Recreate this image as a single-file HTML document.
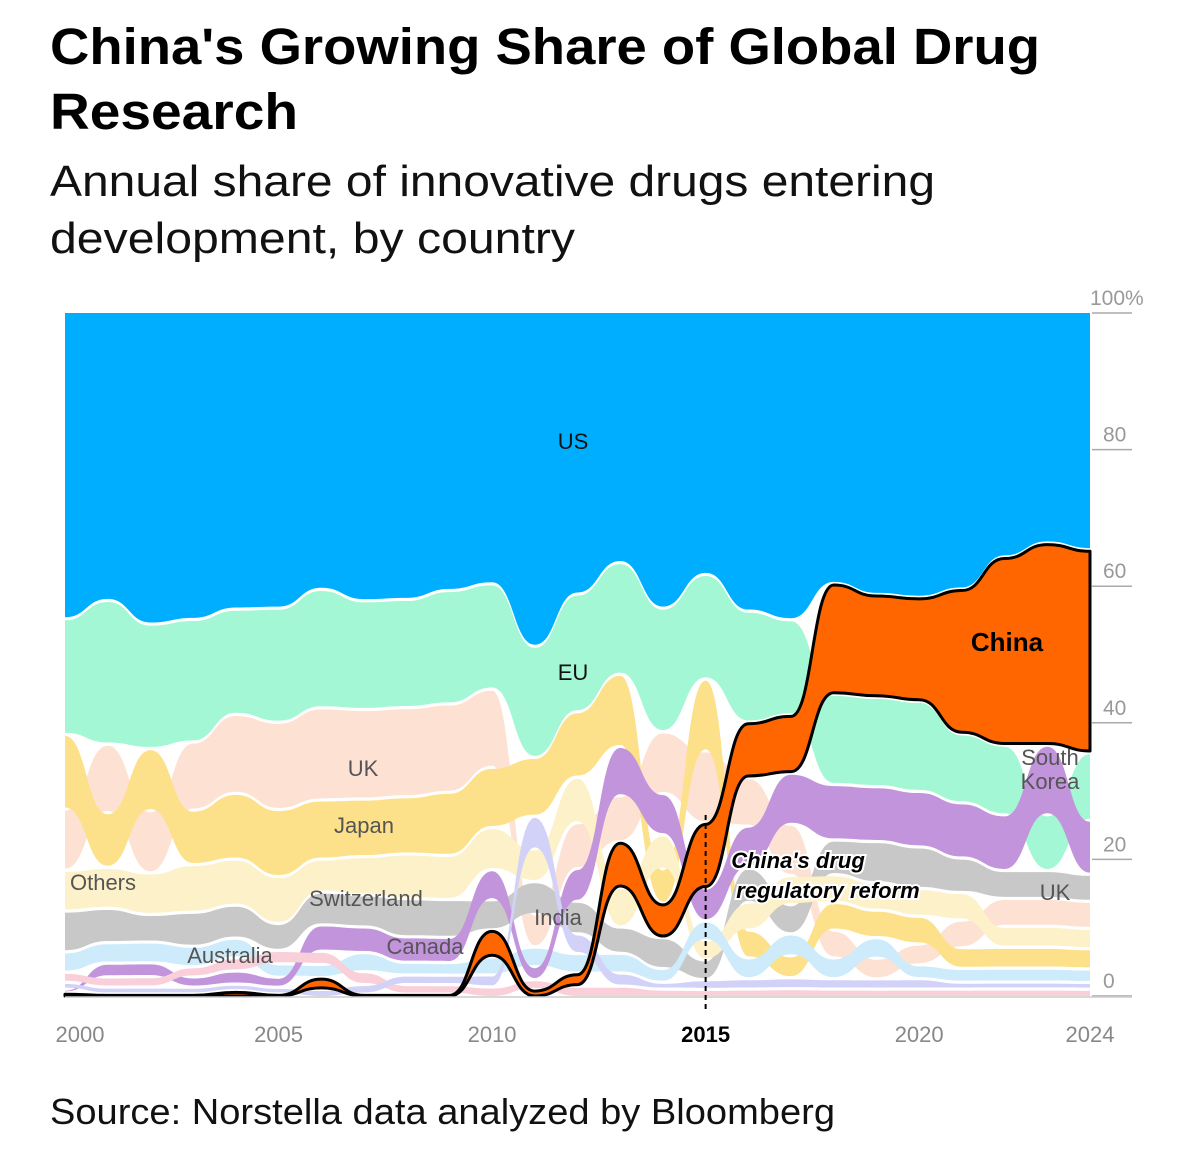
<!DOCTYPE html>
<html><head><meta charset="utf-8">
<style>
body{margin:0;background:#fff;width:1200px;height:1158px;overflow:hidden;font-family:"Liberation Sans",Arial,sans-serif}
svg{position:absolute;left:0;top:0}
</style></head>
<body>
<svg id="chart" width="1200" height="1158">
<text x="50" y="64" font-size="51" font-weight="bold" fill="#000" textLength="990" lengthAdjust="spacingAndGlyphs">China's Growing Share of Global Drug</text>
<text x="50" y="129" font-size="51" font-weight="bold" fill="#000" textLength="248" lengthAdjust="spacingAndGlyphs">Research</text>
<text x="50" y="196" font-size="44" fill="#111" textLength="885" lengthAdjust="spacingAndGlyphs">Annual share of innovative drugs entering</text>
<text x="50" y="253" font-size="44" fill="#111" textLength="525" lengthAdjust="spacingAndGlyphs">development, by country</text>
<g id="bands"></g>
<g id="axes"></g>
<g id="labels"></g>
<text x="50" y="1124" font-size="36" fill="#111" textLength="785" lengthAdjust="spacingAndGlyphs">Source: Norstella data analyzed by Bloomberg</text>
</svg>
<script>
const years = [2000,2001,2002,2003,2004,2005,2006,2007,2008,2009,2010,2011,2012,2013,2014,2015,2016,2017,2018,2019,2020,2021,2022,2023,2024];
const seriesNames = ["US","China","EU","UK","Japan","Others","Switzerland","Australia","South Korea","Canada","India"];
const usData = [45,42,45,45,45,44,42,45,45,44,45,51,43,38,43,40,43,42,39,41,41,40,35,33,35];
const chinaData = [0.5,0.3,0.3,0.3,0.8,0.3,1.8,0.3,0.3,0.3,4.5,1,2,7,5,10,8,8,16,15,15,21,27,29,30];
const euData = [17,21,18,18,16,17,18,17,17,18,17.5,17,18,17,18,16,16,13,13,13,13,10,10,8,10];
const ukData = [9,10,9,10,12,13,14,14,14,14,13,5,7,7,9,11,7,7,4,3,3,4,4,4,4];
const japanData = [11,8,9,8,10,10,9,9,9,10,10,9,10,11,5,11,4,3,4,4,4,3,3,3,3];
const othersData = [6,5,4,5,5,4,5,5,6,6,5,5,5,4,4.5,3,5,4,5,6,6,5,4,4,4];
const switzerlandData = [6,6,6,7,7,7,5,6,7,7,7,5,7,6,5,3,4,4,4,4,4,4,3,3,3];
const australiaData = [3,3,3,3,3,2,2,3,2,2,3,3,3,3,2,3,3,3,3,3,2,2,2,2,2];
const southKoreaData = [0.5,2,2,1.5,2,1.5,4,4,4,4,5,2,5,7.5,6,5,6,7,8,8,8,8,8,10,8];
const canadaData = [1.5,1.5,1.5,1.5,2,2,2,2,1.5,1.5,1.5,1.5,1.5,1.5,1,1,1,1,1,1,1,1,1,1,1];
const indiaData = [1,1,1,1,1,1,1,1.5,1.5,1.5,2,5,3,2,1,1.5,1.5,1.5,1.5,1.5,1.5,1,1,1,1];
const yTicks = [0,20,40,60,80,100];
const yTickLabels = ["0","20","40","60","80","100%"];
const xTicks = [2000,2005,2010,2015,2020,2024];

(function(){
const allData = [usData,chinaData,euData,ukData,japanData,othersData,switzerlandData,australiaData,southKoreaData,canadaData,indiaData];
const colors = ["#00aeff","#ff6600","#a4f7d4","#fde1d3","#fde08a","#c8c8c8","#fdf1c9","#cdebfa","#c294dc","#f9d0d9","#d2d2f8"];
const NS = "http://www.w3.org/2000/svg";
const X0 = 65, X1 = 1090, Y0 = 996, Y100 = 313;
const xs = y => X0 + (y - 2000) * (X1 - X0) / 24;
const ys = v => Y0 - v * (Y0 - Y100) / 100;

const n = seriesNames.length;
const botV = seriesNames.map(() => []), topV = seriesNames.map(() => []);
years.forEach((yr, i) => {
  let sum = 0; allData.forEach(d => sum += d[i]);
  const idx = [...Array(n).keys()].sort((a, b) => allData[a][i] - allData[b][i]);
  let c = 0;
  idx.forEach(k => { const v = allData[k][i] * 100 / sum; botV[k][i] = c; c += v; topV[k][i] = c; });
});
const gap = 1.6;
function bandPath(k) {
  const T = years.map((y, i) => [xs(y), Math.min(ys(topV[k][i]) + (topV[k][i] > 99.9 ? 0 : gap), ys(botV[k][i]) - 0.6)]);
  const B = years.map((y, i) => [xs(y), Math.max(ys(botV[k][i]) - (botV[k][i] < 0.1 ? 0 : gap), T[i][1] + 0.6)]);
  let d = "M" + T[0][0] + "," + T[0][1];
  for (let i = 1; i < T.length; i++) { const mx = (T[i-1][0] + T[i][0]) / 2; d += "C" + mx + "," + T[i-1][1] + " " + mx + "," + T[i][1] + " " + T[i][0] + "," + T[i][1]; }
  d += "L" + B[B.length-1][0] + "," + B[B.length-1][1];
  for (let i = B.length - 2; i >= 0; i--) { const mx = (B[i+1][0] + B[i][0]) / 2; d += "C" + mx + "," + B[i+1][1] + " " + mx + "," + B[i][1] + " " + B[i][0] + "," + B[i][1]; }
  return d + "Z";
}
const g = document.getElementById("bands");
const order = [0,2,3,4,5,6,7,8,9,10,1];
order.forEach(k => {
  const p = document.createElementNS(NS, "path");
  p.setAttribute("d", bandPath(k));
  p.setAttribute("fill", colors[k]);
  if (k === 1) { p.setAttribute("stroke", "#000"); p.setAttribute("stroke-width", "3"); p.setAttribute("stroke-linejoin", "round"); }
  
  
  g.appendChild(p);
});

const ax = document.getElementById("axes");
yTicks.forEach((t, i) => {
  const l = document.createElementNS(NS, "line");
  l.setAttribute("x1", 1092); l.setAttribute("x2", 1132);
  l.setAttribute("y1", ys(t)); l.setAttribute("y2", ys(t));
  l.setAttribute("stroke", "#aaa"); l.setAttribute("stroke-width", "1.5");
  
  
  ax.appendChild(l);
  const tx = document.createElementNS(NS, "text");
  tx.setAttribute("x", t === 100 ? 1090 : 1103); tx.setAttribute("y", ys(t) - 8);
  tx.setAttribute("font-size", "21"); tx.setAttribute("fill", "#999");
  tx.textContent = yTickLabels[i];
  
  
  ax.appendChild(tx);
});
const base = document.createElementNS(NS, "line");
base.setAttribute("x1", X0); base.setAttribute("x2", 1132); base.setAttribute("y1", Y0 + 1); base.setAttribute("y2", Y0 + 1);
base.setAttribute("stroke", "#ccc"); base.setAttribute("stroke-width", "1.5");


ax.appendChild(base);
xTicks.forEach(t => {
  const tx = document.createElementNS(NS, "text");
  let x = xs(t); if (t === 2000) x += 15;
  tx.setAttribute("x", x); tx.setAttribute("y", 1042);
  tx.setAttribute("text-anchor", "middle"); tx.setAttribute("font-size", "22");
  tx.setAttribute("fill", t === 2015 ? "#000" : "#888");
  if (t === 2015) tx.setAttribute("font-weight", "bold");
  tx.textContent = t;
  
  
  ax.appendChild(tx);
});
const dash = document.createElementNS(NS, "line");
dash.setAttribute("x1", xs(2015)); dash.setAttribute("x2", xs(2015)); dash.setAttribute("y1", 815); dash.setAttribute("y2", 1012);
dash.setAttribute("stroke", "#000"); dash.setAttribute("stroke-width", "2"); dash.setAttribute("stroke-dasharray", "5,4");


ax.appendChild(dash);

const labelList = [
  ["US",573,449,22,"#111","normal","normal","label-us"],
  ["EU",573,680,22,"#111","normal","normal","label-eu"],
  ["UK",363,776,22,"#555","normal","normal","label-uk"],
  ["Japan",364,833,22,"#555","normal","normal","label-japan"],
  ["Others",103,890,22,"#555","normal","normal","label-others"],
  ["Switzerland",366,906,22,"#555","normal","normal","label-switzerland"],
  ["Australia",230,963,22,"#555","normal","normal","label-australia"],
  ["Canada",425,954,22,"#555","normal","normal","label-canada"],
  ["India",558,925,22,"#555","normal","normal","label-india"],
  ["South",1050,765,22,"#555","normal","normal","label-south-korea"],
  ["Korea",1050,789,22,"#555","normal","normal","label-south-korea-2"],
  ["UK",1055,900,22,"#555","normal","normal","label-uk-2024"],
  ["China",1007,651,26,"#000","bold","normal","label-china"],
  ["China's drug",798,868,22,"#000","bold","italic","annotation-reform"],
  ["regulatory reform",828,898,22,"#000","bold","italic","annotation-reform-2"]
];
const lg = document.getElementById("labels");
labelList.forEach(L => {
  const tx = document.createElementNS(NS, "text");
  tx.setAttribute("x", L[1]); tx.setAttribute("y", L[2]);
  tx.setAttribute("text-anchor", "middle"); tx.setAttribute("font-size", L[3]);
  tx.setAttribute("fill", L[4]); tx.setAttribute("font-weight", L[5]); tx.setAttribute("font-style", L[6]);
  if (L[7].startsWith("annotation")) { tx.setAttribute("stroke", "#fff"); tx.setAttribute("stroke-width", "4"); tx.setAttribute("paint-order", "stroke"); }
  tx.textContent = L[0];
  
  
  lg.appendChild(tx);
});
})();
</script>
</body></html>
